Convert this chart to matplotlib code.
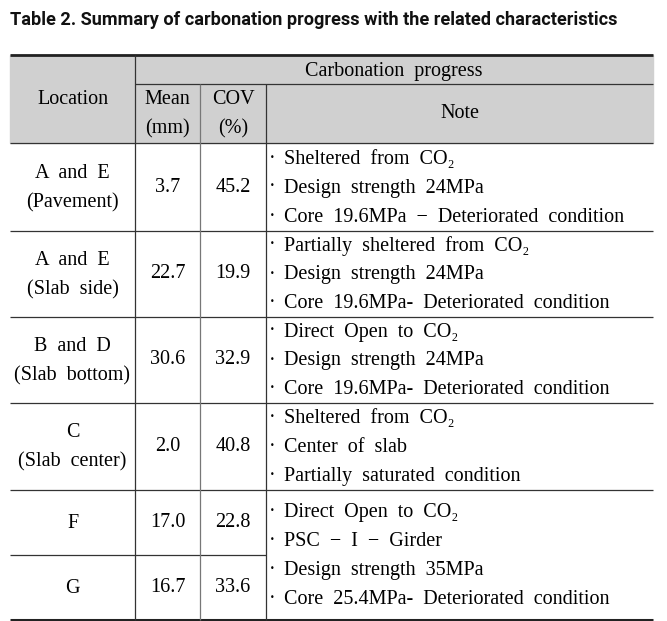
import matplotlib
matplotlib.use("Agg")
import matplotlib.pyplot as plt

# ---- data ----
title = "Table 2. Summary of carbonation progress with the related characteristics"
header_group = "Carbonation progress"
col_headers = ["Location", "Mean\n(mm)", "COV\n(%)", "Note"]
locations = ["A and E\n(Pavement)", "A and E\n(Slab side)", "B and D\n(Slab bottom)",
             "C\n(Slab center)", "F", "G"]
means = ["3.7", "22.7", "30.6", "2.0", "17.0", "16.7"]
covs = ["45.2", "19.9", "32.9", "40.8", "22.8", "33.6"]
notes = [
    ["Sheltered from CO\u2082", "Design strength 24MPa", "Core 19.6MPa \u2212 Deteriorated condition"],
    ["Partially sheltered from CO\u2082", "Design strength 24MPa", "Core 19.6MPa- Deteriorated condition"],
    ["Direct Open to CO\u2082", "Design strength 24MPa", "Core 19.6MPa- Deteriorated condition"],
    ["Sheltered from CO\u2082", "Center of slab", "Partially saturated condition"],
    ["Direct Open to CO\u2082", "PSC \u2212 I \u2212 Girder", "Design strength 35MPa", "Core 25.4MPa- Deteriorated condition"],
]

W, H = 667, 621
fig = plt.figure(figsize=(W / 100, H / 100), dpi=100)
ax = fig.add_axes([0, 0, 1, 1])
ax.set_xlim(0, W)
ax.set_ylim(H, 0)
ax.axis("off")

serif = ["Liberation Serif", "DejaVu Serif"]
fs = 14.5

def sp(s):
    # wide word spacing as in the typeset original
    return s.replace(" ", "  ")

# title, fitted to its width in the original
tt = ax.text(10, 20, title, fontsize=13, fontweight="bold",
             family=["Roboto", "DejaVu Sans"], ha="left", va="center", color="#111")
fig.canvas.draw()
w = tt.get_window_extent().width
tt.set_fontsize(13 * 608 / w)

# geometry
xL, x1, x2, x3, xR = 10, 135, 200, 266, 653
yT, yG, yH = 55, 84, 143
row_y = [143, 231, 317, 403, 490, 555, 620]

ax.add_patch(plt.Rectangle((xL, yT), xR - xL, yH - yT, color="#d0d0d0", zorder=0))

lc = "#333333"
def hl(y, a, b, lw=0.9, c=lc):
    ax.plot([a, b], [y, y], color=c, lw=lw, solid_capstyle="butt")
def vl(x, a, b, lw=0.9, c=lc):
    ax.plot([x, x], [a, b], color=c, lw=lw, solid_capstyle="butt")

hl(yT, xL, xR, lw=2.0, c="#222")
hl(yG, x1, xR)
for y in row_y[:-1]:
    if y == 555:
        hl(y, xL, x3)
    else:
        hl(y, xL, xR)
hl(row_y[-1], xL, xR, lw=2.2, c="#222")
vl(x1, yT, row_y[-1])
vl(x2, yG, row_y[-1], c="#777")
vl(x3, yG, row_y[-1])

ls2 = 1.7
# header texts
ax.text((x1 + xR) / 2, (yT + yG) / 2 + 2, sp(header_group), fontsize=fs, family=serif, ha="center", va="center")
ax.text((xL + x1) / 2, (yT + yH) / 2, col_headers[0], fontsize=fs, family=serif, ha="center", va="center")
ax.text((x1 + x2) / 2, (yG + yH) / 2 + 1, col_headers[1], fontsize=fs, family=serif, ha="center", va="center", linespacing=ls2)
ax.text((x2 + x3) / 2, (yG + yH) / 2 + 1, col_headers[2], fontsize=fs, family=serif, ha="center", va="center", linespacing=ls2)
ax.text((x3 + xR) / 2, (yG + yH) / 2, col_headers[3], fontsize=fs, family=serif, ha="center", va="center")

# body
for i, (loc, m, c) in enumerate(zip(locations, means, covs)):
    if i < 4:
        a, b = row_y[i], row_y[i + 1]
    elif i == 4:
        a, b = row_y[4], row_y[5]
    else:
        a, b = row_y[5], row_y[6]
    cy = (a + b) / 2
    ax.text((xL + x1) / 2, cy + 1, sp(loc), fontsize=fs, family=serif, ha="center", va="center", linespacing=ls2)
    ax.text((x1 + x2) / 2, cy, m, fontsize=fs, family=serif, ha="center", va="center")
    ax.text((x2 + x3) / 2, cy, c, fontsize=fs, family=serif, ha="center", va="center")

note_cells = [(row_y[0], row_y[1]), (row_y[1], row_y[2]), (row_y[2], row_y[3]),
              (row_y[3], row_y[4]), (row_y[4], row_y[6])]
for (a, b), lines in zip(note_cells, notes):
    n = len(lines)
    step = 29
    start = (a + b) / 2 - step * (n - 1) / 2 + 1
    for k, t in enumerate(lines):
        y = start + k * step
        ax.text(269, y, "\u00b7", fontsize=fs, family=serif, ha="left", va="center")
        ax.text(284, y, sp(t), fontsize=fs, family=serif, ha="left", va="center")

fig.savefig("out.png", dpi=100, facecolor="white")
